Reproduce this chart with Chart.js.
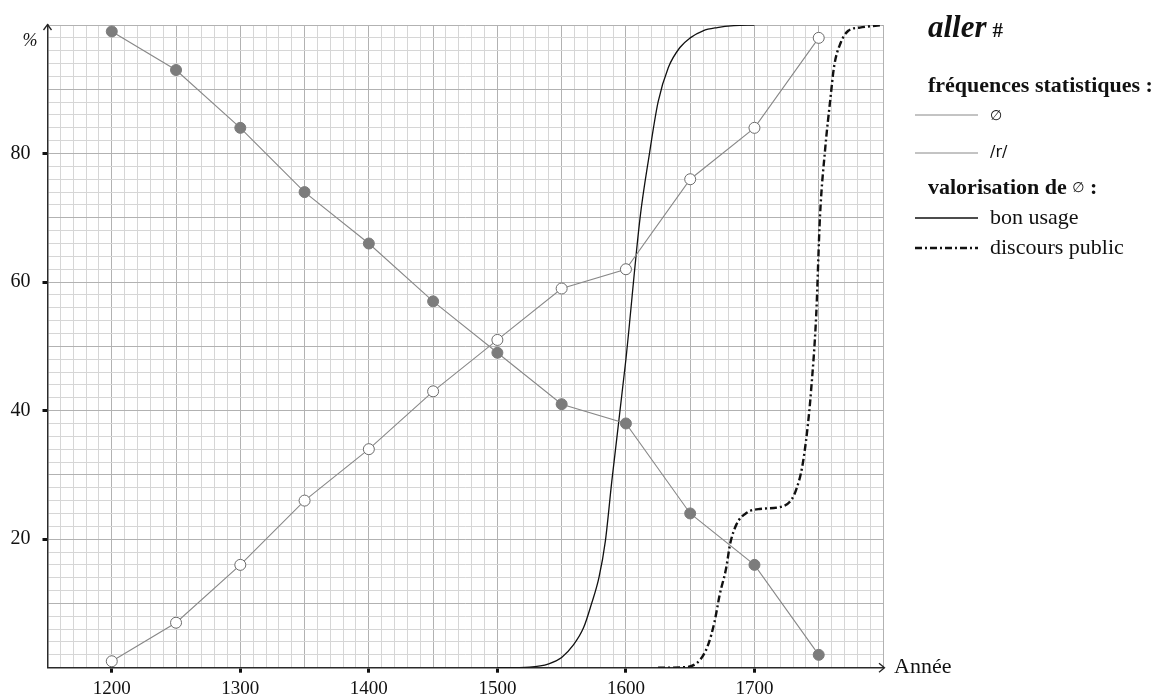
<!DOCTYPE html>
<html lang="fr">
<head>
<meta charset="utf-8">
<title>aller #</title>
<script src="https://cdn.jsdelivr.net/npm/chart.js@4.4.1/dist/chart.umd.min.js"></script>
<style>
  html, body { margin: 0; padding: 0; background: #ffffff; }
  #wrap { position: relative; width: 1160px; height: 698px; }
  canvas { display: block; }
</style>
</head>
<body>
<div id="wrap"><canvas id="chart" width="1160" height="698"></canvas></div>
<script>
// Sampling years for the two frequency series
const years = [1200, 1250, 1300, 1350, 1400, 1450, 1500, 1550, 1600, 1650, 1700, 1750];
// Frequency (%) of the form without final consonant (∅)
const zeroForm = [99, 93, 84, 74, 66, 57, 49, 41, 38, 24, 16, 2];
// Frequency (%) of the form with pronounced /r/
const rForm = [1, 7, 16, 26, 34, 43, 51, 59, 62, 76, 84, 98];

// Valorisation of ∅ in the "bon usage" tradition
const bonUsageYears  = [1500, 1525, 1540, 1550, 1559, 1567, 1573, 1579, 1584, 1589, 1600, 1611, 1618, 1625, 1633, 1642, 1650, 1660, 1671, 1684, 1700];
const bonUsageValues = [0, 0.1, 0.6, 1.6, 3.5, 6.2, 9.8, 14, 19.7, 29, 48, 70, 79.6, 88, 93.4, 96.5, 98, 99.1, 99.6, 99.9, 100];

// Valorisation of ∅ in public discourse
const discoursYears  = [1625, 1647, 1658, 1664, 1669, 1673, 1678, 1681, 1686, 1694, 1704, 1720, 1729, 1733, 1737, 1741, 1744, 1748, 1751, 1755, 1759, 1762, 1767, 1773, 1782, 1800];
const discoursValues = [0, 0.1, 1.3, 3.6, 7.2, 11.4, 15.5, 19.2, 22.3, 24.1, 24.7, 25, 26.2, 28, 31.1, 36.8, 43, 54.7, 70.3, 80.7, 88.4, 93.6, 97.2, 99.1, 99.6, 100];

// Labelled ticks
const xTickLabels = [1200, 1300, 1400, 1500, 1600, 1700];
const yTickLabels = [20, 40, 60, 80];

const toPoints = (xs, ys) => xs.map((x, i) => ({ x: x, y: ys[i] }));

const SERIF = '"Liberation Serif", "DejaVu Serif", serif';
const SANS = '"DejaVu Sans", "Liberation Sans", sans-serif';
const GRAY_LINE = '#888888';
const DASH_DOT = [7, 3, 2, 3];

// Axis arrows, axis titles and the legend block on the right
const decorations = {
  id: 'decorations',
  afterDraw(chart) {
    const { ctx, chartArea: a } = chart;
    ctx.save();
    ctx.strokeStyle = '#222';
    ctx.lineWidth = 1.3;
    // arrow at top of vertical axis
    ctx.beginPath();
    ctx.moveTo(a.left - 4, a.top + 5);
    ctx.lineTo(a.left, a.top - 0.5);
    ctx.lineTo(a.left + 4, a.top + 5);
    ctx.stroke();
    // arrow at right end of horizontal axis
    ctx.beginPath();
    ctx.moveTo(a.right - 4, a.bottom - 4.5);
    ctx.lineTo(a.right + 1.5, a.bottom);
    ctx.lineTo(a.right - 4, a.bottom + 4.5);
    ctx.stroke();

    ctx.fillStyle = '#111';
    // axis titles
    ctx.font = 'italic 18px ' + SERIF;
    ctx.textAlign = 'center';
    ctx.textBaseline = 'middle';
    ctx.fillText('%', 30, 41);
    ctx.font = '22px ' + SERIF;
    ctx.textAlign = 'left';
    ctx.fillText('Année', 894, a.bottom);

    // legend
    const lx0 = 915, lx1 = 978, tx = 990, hx = 928;
    ctx.textBaseline = 'alphabetic';
    ctx.font = 'italic bold 31px ' + SERIF;
    ctx.fillText('aller', hx, 37);
    let w = ctx.measureText('aller').width;
    ctx.font = 'bold 21px ' + SERIF;
    ctx.fillText('#', hx + w + 6, 37);

    ctx.font = 'bold 22px ' + SERIF;
    ctx.fillText('fréquences statistiques :', hx, 92);

    const sample = (y, color, width, dash) => {
      ctx.save();
      ctx.strokeStyle = color;
      ctx.lineWidth = width;
      ctx.setLineDash(dash || []);
      ctx.beginPath();
      ctx.moveTo(lx0, y);
      ctx.lineTo(lx1, y);
      ctx.stroke();
      ctx.restore();
    };
    sample(115, GRAY_LINE, 1);
    ctx.font = '14px ' + SANS;
    ctx.textBaseline = 'middle';
    ctx.fillText('∅', tx, 116);
    sample(153, GRAY_LINE, 1);
    ctx.font = '16px ' + SANS;
    ctx.fillText('/r/', tx, 153);

    ctx.textBaseline = 'alphabetic';
    ctx.font = 'bold 22px ' + SERIF;
    ctx.fillText('valorisation de ', hx, 194);
    w = ctx.measureText('valorisation de ').width;
    ctx.font = '14px ' + SANS;
    ctx.fillText('∅', hx + w, 192);
    const w2 = ctx.measureText('∅').width;
    ctx.font = 'bold 22px ' + SERIF;
    ctx.fillText(' :', hx + w + w2, 194);

    sample(218, '#111', 1.5);
    ctx.font = '22px ' + SERIF;
    ctx.fillText('bon usage', tx, 224);
    sample(248, '#111', 2.4, DASH_DOT);
    ctx.fillText('discours public', tx, 254);
    ctx.restore();
  }
};

const gridColor = (ctx, major) => {
  if (!ctx.tick) return 'rgba(0,0,0,0)';
  const v = Math.round(ctx.tick.value);
  return v % major === 0 ? '#b2b2b2' : '#d6d6d6';
};

new Chart(document.getElementById('chart'), {
  type: 'line',
  data: {
    datasets: [
      {
        label: '∅',
        data: toPoints(years, zeroForm),
        borderColor: GRAY_LINE,
        borderWidth: 1.1,
        pointRadius: 5.5,
        pointBackgroundColor: '#7c7c7c',
        pointBorderColor: '#7c7c7c',
        pointBorderWidth: 1,
        tension: 0
      },
      {
        label: '/r/',
        data: toPoints(years, rForm),
        borderColor: GRAY_LINE,
        borderWidth: 1.1,
        pointRadius: 5.5,
        pointBackgroundColor: '#ffffff',
        pointBorderColor: '#6c6c6c',
        pointBorderWidth: 1,
        tension: 0
      },
      {
        label: 'bon usage',
        data: toPoints(bonUsageYears, bonUsageValues),
        borderColor: '#111',
        borderWidth: 1.3,
        pointRadius: 0,
        cubicInterpolationMode: 'monotone'
      },
      {
        label: 'discours public',
        data: toPoints(discoursYears, discoursValues),
        borderColor: '#111',
        borderWidth: 2.4,
        borderDash: DASH_DOT,
        pointRadius: 0,
        cubicInterpolationMode: 'monotone'
      }
    ]
  },
  options: {
    responsive: false,
    animation: false,
    events: [],
    devicePixelRatio: 1,
    layout: { padding: { top: 25, right: 277, left: 0, bottom: 0 } },
    plugins: { legend: { display: false }, tooltip: { enabled: false } },
    scales: {
      x: {
        type: 'linear',
        min: 1150,
        max: 1800,
        afterFit: s => { s.height = 30.3; },
        border: { color: '#2a2a2a', width: 1.5 },
        grid: {
          color: c => gridColor(c, 50),
          lineWidth: 1,
          tickLength: 5,
          tickWidth: 3,
          tickColor: c => (c.tick && xTickLabels.includes(Math.round(c.tick.value))) ? '#111' : 'rgba(0,0,0,0)'
        },
        ticks: {
          stepSize: 10,
          autoSkip: false,
          maxRotation: 0,
          padding: 5,
          color: '#111',
          font: { family: SERIF, size: 19 },
          callback: v => xTickLabels.includes(Math.round(v)) ? String(Math.round(v)) : ''
        }
      },
      y: {
        type: 'linear',
        min: 0,
        max: 100,
        afterFit: s => { s.width = 47.5; },
        border: { color: '#2a2a2a', width: 1.5 },
        grid: {
          color: c => gridColor(c, 10),
          lineWidth: 1,
          tickLength: 5,
          tickWidth: 3,
          tickColor: c => (c.tick && yTickLabels.includes(Math.round(c.tick.value))) ? '#111' : 'rgba(0,0,0,0)'
        },
        ticks: {
          stepSize: 2,
          autoSkip: false,
          padding: 12,
          color: '#111',
          font: { family: SERIF, size: 20 },
          callback: v => yTickLabels.includes(Math.round(v)) ? String(Math.round(v)) : ''
        }
      }
    }
  },
  plugins: [decorations]
});
</script>
</body>
</html>
